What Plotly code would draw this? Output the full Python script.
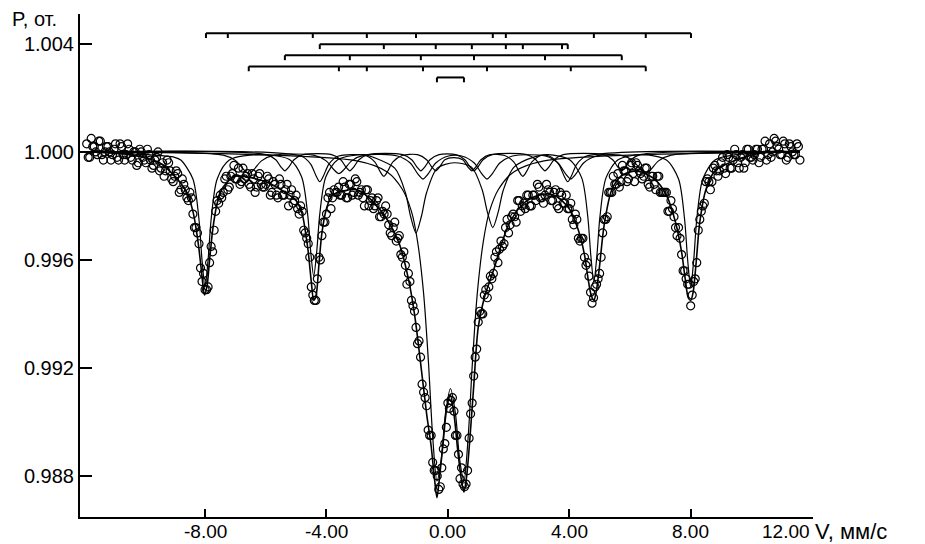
import plotly.graph_objects as go

# ---------------- data ----------------
# measured points, first set of channels
VELOCITY = [
    -11.9, -11.8, -11.7, -11.6, -11.5, -11.4, -11.3, -11.2, -11.1, -11.0,
    -10.9, -10.8, -10.7, -10.6, -10.5, -10.4, -10.3, -10.2, -10.1, -10.0,
    -9.9, -9.8, -9.7, -9.6, -9.5, -9.4, -9.3, -9.2, -9.1, -9.0,
    -8.9, -8.8, -8.7, -8.6, -8.5, -8.4, -8.3, -8.2, -8.1, -8.0,
    -7.9, -7.8, -7.7, -7.6, -7.5, -7.4, -7.3, -7.2, -7.1, -7.0,
    -6.9, -6.8, -6.7, -6.6, -6.5, -6.4, -6.3, -6.2, -6.1, -6.0,
    -5.9, -5.8, -5.7, -5.6, -5.5, -5.4, -5.3, -5.2, -5.1, -5.0,
    -4.9, -4.8, -4.7, -4.6, -4.5, -4.4, -4.3, -4.2, -4.1, -4.0,
    -3.9, -3.8, -3.7, -3.6, -3.5, -3.4, -3.3, -3.2, -3.1, -3.0,
    -2.9, -2.8, -2.7, -2.6, -2.5, -2.4, -2.3, -2.2, -2.1, -2.0,
    -1.9, -1.8, -1.7, -1.6, -1.5, -1.4, -1.3, -1.2, -1.1, -1.0,
    -0.9, -0.8, -0.7, -0.6, -0.5, -0.4, -0.3, -0.2, -0.1, 0.0,
    0.1, 0.2, 0.3, 0.4, 0.5, 0.6, 0.7, 0.8, 0.9, 1.0,
    1.1, 1.2, 1.3, 1.4, 1.5, 1.6, 1.7, 1.8, 1.9, 2.0,
    2.1, 2.2, 2.3, 2.4, 2.5, 2.6, 2.7, 2.8, 2.9, 3.0,
    3.1, 3.2, 3.3, 3.4, 3.5, 3.6, 3.7, 3.8, 3.9, 4.0,
    4.1, 4.2, 4.3, 4.4, 4.5, 4.6, 4.7, 4.8, 4.9, 5.0,
    5.1, 5.2, 5.3, 5.4, 5.5, 5.6, 5.7, 5.8, 5.9, 6.0,
    6.1, 6.2, 6.3, 6.4, 6.5, 6.6, 6.7, 6.8, 6.9, 7.0,
    7.1, 7.2, 7.3, 7.4, 7.5, 7.6, 7.7, 7.8, 7.9, 8.0,
    8.1, 8.2, 8.3, 8.4, 8.5, 8.6, 8.7, 8.8, 8.9, 9.0,
    9.1, 9.2, 9.3, 9.4, 9.5, 9.6, 9.7, 9.8, 9.9, 10.0,
    10.1, 10.2, 10.3, 10.4, 10.5, 10.6, 10.7, 10.8, 10.9, 11.0,
    11.1, 11.2, 11.3, 11.4, 11.5, 11.6,
]
INTENSITY = [
    1.0003, 0.9998, 1.0002, 1.0000, 1.0004, 0.9999, 1.0000, 1.0002, 0.9997, 1.0001,
    0.9998, 1.0003, 0.9999, 0.9999, 1.0001, 0.9997, 1.0000, 0.9996, 1.0000, 0.9997,
    1.0001, 0.9997, 0.9995, 0.9998, 0.9993, 0.9996, 0.9993, 0.9996, 0.9990, 0.9991,
    0.9992, 0.9986, 0.9988, 0.9983, 0.9985, 0.9977, 0.9972, 0.9966, 0.9952, 0.9949,
    0.9950, 0.9965, 0.9971, 0.9982, 0.9984, 0.9985, 0.9991, 0.9987, 0.9992, 0.9990,
    0.9994, 0.9989, 0.9990, 0.9992, 0.9987, 0.9990, 0.9987, 0.9992, 0.9987, 0.9988,
    0.9990, 0.9985, 0.9988, 0.9983, 0.9988, 0.9984, 0.9988, 0.9984, 0.9981, 0.9984,
    0.9977, 0.9978, 0.9970, 0.9966, 0.9950, 0.9945, 0.9953, 0.9960, 0.9974, 0.9977,
    0.9985, 0.9983, 0.9985, 0.9987, 0.9984, 0.9987, 0.9983, 0.9988, 0.9985, 0.9989,
    0.9985, 0.9983, 0.9986, 0.9980, 0.9983, 0.9980, 0.9983, 0.9976, 0.9977, 0.9977,
    0.9970, 0.9972, 0.9967, 0.9969, 0.9961, 0.9958, 0.9955, 0.9945, 0.9941, 0.9929,
    0.9924, 0.9911, 0.9906, 0.9895, 0.9885, 0.9882, 0.9875, 0.9883, 0.9892, 0.9907,
    0.9908, 0.9904, 0.9895, 0.9879, 0.9877, 0.9877, 0.9894, 0.9907, 0.9924, 0.9937,
    0.9940, 0.9947, 0.9946, 0.9954, 0.9955, 0.9963, 0.9964, 0.9965, 0.9972, 0.9970,
    0.9976, 0.9976, 0.9982, 0.9978, 0.9981, 0.9984, 0.9980, 0.9984, 0.9982, 0.9987,
    0.9983, 0.9984, 0.9986, 0.9982, 0.9985, 0.9980, 0.9985, 0.9981, 0.9984, 0.9979,
    0.9975, 0.9977, 0.9968, 0.9968, 0.9961, 0.9959, 0.9948, 0.9946, 0.9951, 0.9955,
    0.9970, 0.9975, 0.9985, 0.9985, 0.9988, 0.9992, 0.9989, 0.9993, 0.9989, 0.9995,
    0.9992, 0.9996, 0.9993, 0.9990, 0.9994, 0.9988, 0.9991, 0.9988, 0.9991, 0.9985,
    0.9985, 0.9985, 0.9978, 0.9979, 0.9972, 0.9972, 0.9962, 0.9956, 0.9951, 0.9943,
    0.9952, 0.9959, 0.9975, 0.9980, 0.9989, 0.9989, 0.9989, 0.9995, 0.9991, 0.9996,
    0.9994, 0.9999, 0.9994, 0.9997, 0.9999, 0.9994, 0.9999, 0.9996, 1.0001, 0.9998,
    0.9999, 1.0001, 0.9998, 1.0001, 0.9997, 1.0003, 1.0000, 1.0004, 1.0001, 0.9999,
    1.0003, 0.9998, 1.0002, 0.9999, 1.0003, 0.9997,
]
# measured points, second (interleaved) set of channels
VELOCITY_2 = [
    -11.85, -11.75, -11.65, -11.55, -11.45, -11.35, -11.25, -11.15, -11.05, -10.95,
    -10.85, -10.75, -10.65, -10.55, -10.45, -10.35, -10.25, -10.15, -10.05, -9.95,
    -9.85, -9.75, -9.65, -9.55, -9.45, -9.35, -9.25, -9.15, -9.05, -8.95,
    -8.85, -8.75, -8.65, -8.55, -8.45, -8.35, -8.25, -8.15, -8.05, -7.95,
    -7.85, -7.75, -7.65, -7.55, -7.45, -7.35, -7.25, -7.15, -7.05, -6.95,
    -6.85, -6.75, -6.65, -6.55, -6.45, -6.35, -6.25, -6.15, -6.05, -5.95,
    -5.85, -5.75, -5.65, -5.55, -5.45, -5.35, -5.25, -5.15, -5.05, -4.95,
    -4.85, -4.75, -4.65, -4.55, -4.45, -4.35, -4.25, -4.15, -4.05, -3.95,
    -3.85, -3.75, -3.65, -3.55, -3.45, -3.35, -3.25, -3.15, -3.05, -2.95,
    -2.85, -2.75, -2.65, -2.55, -2.45, -2.35, -2.25, -2.15, -2.05, -1.95,
    -1.85, -1.75, -1.65, -1.55, -1.45, -1.35, -1.25, -1.15, -1.05, -0.95,
    -0.85, -0.75, -0.65, -0.55, -0.45, -0.35, -0.25, -0.15, -0.05, 0.05,
    0.15, 0.25, 0.35, 0.45, 0.55, 0.65, 0.75, 0.85, 0.95, 1.05,
    1.15, 1.25, 1.35, 1.45, 1.55, 1.65, 1.75, 1.85, 1.95, 2.05,
    2.15, 2.25, 2.35, 2.45, 2.55, 2.65, 2.75, 2.85, 2.95, 3.05,
    3.15, 3.25, 3.35, 3.45, 3.55, 3.65, 3.75, 3.85, 3.95, 4.05,
    4.15, 4.25, 4.35, 4.45, 4.55, 4.65, 4.75, 4.85, 4.95, 5.05,
    5.15, 5.25, 5.35, 5.45, 5.55, 5.65, 5.75, 5.85, 5.95, 6.05,
    6.15, 6.25, 6.35, 6.45, 6.55, 6.65, 6.75, 6.85, 6.95, 7.05,
    7.15, 7.25, 7.35, 7.45, 7.55, 7.65, 7.75, 7.85, 7.95, 8.05,
    8.15, 8.25, 8.35, 8.45, 8.55, 8.65, 8.75, 8.85, 8.95, 9.05,
    9.15, 9.25, 9.35, 9.45, 9.55, 9.65, 9.75, 9.85, 9.95, 10.05,
    10.15, 10.25, 10.35, 10.45, 10.55, 10.65, 10.75, 10.85, 10.95, 11.05,
    11.15, 11.25, 11.35, 11.45, 11.55,
]
INTENSITY_2 = [
    0.9998, 1.0005, 1.0002, 0.9999, 1.0004, 0.9997, 1.0002, 1.0000, 0.9999, 1.0003,
    0.9997, 1.0002, 0.9997, 1.0003, 0.9998, 1.0000, 0.9995, 1.0001, 0.9998, 0.9996,
    0.9999, 0.9994, 0.9997, 1.0000, 0.9994, 0.9991, 0.9997, 0.9993, 0.9989, 0.9993,
    0.9985, 0.9990, 0.9986, 0.9982, 0.9983, 0.9972, 0.9970, 0.9957, 0.9955, 0.9949,
    0.9959, 0.9963, 0.9978, 0.9981, 0.9983, 0.9990, 0.9986, 0.9991, 0.9995, 0.9990,
    0.9988, 0.9994, 0.9991, 0.9988, 0.9992, 0.9985, 0.9991, 0.9988, 0.9987, 0.9991,
    0.9984, 0.9989, 0.9984, 0.9990, 0.9984, 0.9986, 0.9980, 0.9986, 0.9982, 0.9979,
    0.9980, 0.9971, 0.9968, 0.9961, 0.9947, 0.9945, 0.9961, 0.9969, 0.9974, 0.9983,
    0.9979, 0.9986, 0.9985, 0.9984, 0.9989, 0.9983, 0.9988, 0.9984, 0.9990, 0.9984,
    0.9986, 0.9980, 0.9986, 0.9982, 0.9979, 0.9982, 0.9976, 0.9978, 0.9980, 0.9973,
    0.9969, 0.9974, 0.9968, 0.9962, 0.9963, 0.9951, 0.9952, 0.9943, 0.9935, 0.9930,
    0.9914, 0.9909, 0.9897, 0.9895, 0.9882, 0.9880, 0.9876, 0.9890, 0.9898, 0.9905,
    0.9909, 0.9895, 0.9888, 0.9883, 0.9876, 0.9882, 0.9903, 0.9917, 0.9927, 0.9941,
    0.9940, 0.9949, 0.9950, 0.9953, 0.9961, 0.9959, 0.9967, 0.9966, 0.9975, 0.9973,
    0.9977, 0.9974, 0.9982, 0.9980, 0.9979, 0.9984, 0.9980, 0.9984, 0.9988, 0.9983,
    0.9981, 0.9988, 0.9985, 0.9982, 0.9986, 0.9979, 0.9984, 0.9981, 0.9979, 0.9981,
    0.9973, 0.9975, 0.9967, 0.9968, 0.9958, 0.9954, 0.9944, 0.9950, 0.9953, 0.9961,
    0.9975, 0.9976, 0.9985, 0.9991, 0.9988, 0.9987, 0.9995, 0.9993, 0.9990, 0.9996,
    0.9989, 0.9995, 0.9992, 0.9991, 0.9994, 0.9987, 0.9991, 0.9986, 0.9991, 0.9985,
    0.9985, 0.9978, 0.9982, 0.9976, 0.9969, 0.9968, 0.9956, 0.9953, 0.9951, 0.9947,
    0.9953, 0.9971, 0.9978, 0.9981, 0.9990, 0.9986, 0.9994, 0.9993, 0.9993, 0.9998,
    0.9992, 0.9998, 0.9994, 1.0001, 0.9996, 0.9998, 0.9994, 1.0001, 0.9998, 0.9997,
    1.0001, 0.9996, 1.0001, 1.0004, 0.9999, 0.9998, 1.0005, 1.0002, 0.9999, 1.0004,
    0.9997, 1.0003, 1.0000, 0.9999, 1.0002,
]

# fitted envelope
FIT_V = [
    -11.9, -10.5, -9.5, -9.0, -8.6, -8.4, -8.3, -8.2, -8.1, -8.02,
    -7.94, -7.85, -7.75, -7.6, -7.4, -7.0, -6.0, -5.5, -5.0, -4.8,
    -4.7, -4.6, -4.5, -4.42, -4.34, -4.25, -4.15, -4.0, -3.8, -3.0,
    -2.5, -2.0, -1.6, -1.3, -1.1, -0.9, -0.7, -0.55, -0.45, -0.36,
    -0.27, -0.15, -0.05, 0.08, 0.2, 0.32, 0.44, 0.53, 0.62, 0.72,
    0.85, 1.0, 1.2, 1.5, 2.0, 2.5, 3.0, 3.5, 4.0, 4.3,
    4.5, 4.62, 4.72, 4.81, 4.9, 5.0, 5.15, 5.4, 5.7, 6.2,
    6.8, 7.2, 7.5, 7.7, 7.82, 7.92, 8.0, 8.08, 8.18, 8.3,
    8.5, 8.8, 9.5, 10.5, 11.6,
]
FIT_P = [
    1.0000, 0.9999, 0.9996, 0.9991, 0.9985, 0.9978, 0.9972, 0.9964, 0.9954, 0.9947,
    0.9950, 0.9960, 0.9971, 0.9981, 0.9987, 0.9991, 0.9989, 0.9986, 0.9982, 0.9977,
    0.9971, 0.9963, 0.9952, 0.9945, 0.9947, 0.9958, 0.9970, 0.9979, 0.9984, 0.9986,
    0.9982, 0.9975, 0.9966, 0.9953, 0.9940, 0.9922, 0.9903, 0.9891, 0.9880, 0.9872,
    0.9880, 0.9893, 0.9904, 0.9910, 0.9903, 0.9890, 0.9879, 0.9874, 0.9880, 0.9893,
    0.9913, 0.9935, 0.9946, 0.9956, 0.9973, 0.9981, 0.9984, 0.9984, 0.9979, 0.9971,
    0.9962, 0.9953, 0.9947, 0.9945, 0.9949, 0.9958, 0.9973, 0.9986, 0.9991, 0.9993,
    0.9990, 0.9984, 0.9974, 0.9963, 0.9953, 0.9946, 0.9945, 0.9948, 0.9959, 0.9974,
    0.9986, 0.9993, 0.9997, 1.0000, 1.0000,
]

# subspectrum: main sextet
SEXTET_A_V = [
    -11.9, -9.0, -8.8, -8.4, -8.2, -8.1, -8.0, -7.9, -7.8, -7.6,
    -7.2, -6.2, -5.22, -4.82, -4.62, -4.52, -4.42, -4.32, -4.22, -4.02,
    -3.62, -2.75, -2.45, -1.75, -1.40, -1.225, -1.05, -0.875, -0.70, -0.35,
    0.2, 0.78, 1.13, 1.305, 1.48, 1.655, 1.83, 2.18, 2.88, 3.3,
    4.01, 4.41, 4.61, 4.71, 4.81, 4.91, 5.01, 5.21, 5.61, 6.4,
    7.2, 7.6, 7.8, 7.9, 8.0, 8.1, 8.2, 8.4, 8.8, 9.5,
    11.6,
]
SEXTET_A_P = [
    1.0000, 0.9998, 0.9997, 0.9990, 0.9975, 0.9960, 0.9950, 0.9960, 0.9975, 0.9990,
    0.9997, 0.9999, 0.99972, 0.99908, 0.9977, 0.99632, 0.9954, 0.99632, 0.9977, 0.99908,
    0.99972, 0.9999, 0.9998, 0.9994, 0.9985, 0.9976, 0.9970, 0.9976, 0.9985, 0.9994,
    0.9996, 0.99944, 0.9986, 0.99776, 0.9972, 0.99776, 0.9986, 0.99944, 0.99983, 0.9999,
    0.99971, 0.99904, 0.9976, 0.99616, 0.9952, 0.99616, 0.9976, 0.99904, 0.99971, 0.9999,
    0.9997, 0.9990, 0.9975, 0.9960, 0.9950, 0.9960, 0.9975, 0.9990, 0.9997, 0.9999,
    1.0000,
]

# subspectrum: sextet B
SEXTET_B_V = [
    -11.9, -4.82, -4.52, -4.34, -4.22, -4.10, -3.92, -3.62, -2.71, -2.41,
    -2.23, -2.11, -1.99, -1.81, -1.51, -1.0, -0.70, -0.52, -0.40, -0.28,
    -0.10, 0.19, 0.49, 0.67, 0.79, 0.91, 1.09, 1.39, 1.87, 2.17,
    2.35, 2.47, 2.59, 2.77, 3.07, 3.35, 3.65, 3.83, 3.95, 4.07,
    4.25, 4.55, 11.6,
]
SEXTET_B_P = [
    1.0, 0.99984, 0.99955, 0.99911, 0.99890, 0.99911, 0.99955, 0.99984, 0.99987, 0.99963,
    0.99927, 0.99910, 0.99927, 0.99963, 0.99987, 0.99990, 0.99971, 0.99943, 0.99930, 0.99943,
    0.99971, 0.99979, 0.99971, 0.99943, 0.99930, 0.99943, 0.99971, 0.99990, 0.99987, 0.99963,
    0.99927, 0.99910, 0.99927, 0.99963, 0.99987, 0.99984, 0.99955, 0.99911, 0.99890, 0.99911,
    0.99955, 0.99984, 1.0,
]

# subspectrum: sextet C
SEXTET_C_V = [
    -11.9, -5.97, -5.67, -5.49, -5.37, -5.25, -5.07, -4.77, -3.83, -3.53,
    -3.35, -3.23, -3.11, -2.93, -2.63, -1.49, -1.19, -1.01, -0.89, -0.77,
    -0.59, -0.29, 0.26, 0.56, 0.74, 0.86, 0.98, 1.16, 1.46, 2.60,
    2.90, 3.08, 3.20, 3.32, 3.50, 3.80, 5.13, 5.43, 5.61, 5.73,
    5.85, 6.03, 6.33, 11.6,
]
SEXTET_C_P = [
    1.0, 0.99990, 0.99971, 0.99943, 0.99930, 0.99943, 0.99971, 0.99990, 0.99990, 0.99971,
    0.99943, 0.99930, 0.99943, 0.99971, 0.99990, 0.99990, 0.99971, 0.99943, 0.99930, 0.99943,
    0.99971, 0.99990, 0.99990, 0.99971, 0.99943, 0.99930, 0.99943, 0.99971, 0.99990, 0.99990,
    0.99971, 0.99943, 0.99930, 0.99943, 0.99971, 0.99990, 0.99990, 0.99971, 0.99943, 0.99930,
    0.99943, 0.99971, 0.99990, 1.0,
]

# subspectrum: sextet D
SEXTET_D_V = [
    -11.9, -7.40, -6.98, -6.73, -6.56, -6.39, -6.14, -5.72, -4.43, -4.01,
    -3.76, -3.59, -3.42, -3.17, -2.75, -1.66, -1.24, -0.99, -0.82, -0.65,
    -0.40, 0.02, 0.45, 0.87, 1.12, 1.29, 1.46, 1.71, 2.13, 3.21,
    3.63, 3.88, 4.05, 4.22, 4.47, 4.89, 5.68, 6.10, 6.35, 6.52,
    6.69, 6.94, 7.36, 11.6,
]
SEXTET_D_P = [
    1.0, 0.99988, 0.99967, 0.99935, 0.99920, 0.99935, 0.99967, 0.99988, 0.99988, 0.99967,
    0.99935, 0.99920, 0.99935, 0.99967, 0.99988, 0.99985, 0.99959, 0.99919, 0.99900, 0.99919,
    0.99959, 0.99985, 0.99985, 0.99959, 0.99919, 0.99900, 0.99919, 0.99959, 0.99985, 0.99985,
    0.99959, 0.99919, 0.99900, 0.99919, 0.99959, 0.99985, 0.99988, 0.99967, 0.99935, 0.99920,
    0.99935, 0.99967, 0.99988, 1.0,
]

# subspectrum: doublet
DOUBLET_V = [
    -11.9, -3.0, -2.0, -1.5, -1.2, -1.0, -0.8, -0.64, -0.5, -0.36,
    -0.22, -0.08, 0.085, 0.25, 0.39, 0.53, 0.67, 0.81, 0.97, 1.17,
    1.37, 1.67, 2.17, 3.17, 11.6,
]
DOUBLET_P = [
    1.0000, 0.99967, 0.99926, 0.99862, 0.99780, 0.99670, 0.99477, 0.99222, 0.98946, 0.98781,
    0.9886, 0.99031, 0.99124, 0.99031, 0.9886, 0.98781, 0.98946, 0.99222, 0.99477, 0.99670,
    0.99780, 0.99862, 0.99926, 0.99967, 1.0000,
]

# stick diagrams (line positions, mm/s), one list per row from the top
STICK_ROW_1 = [-7.97, -7.25, -4.45, -2.67, -1.05, 1.48, 1.91, 4.81, 6.52, 8.01]
STICK_ROW_2 = [-4.22, -2.11, -0.40, 0.79, 1.91, 2.47, 3.76, 3.95]
STICK_ROW_3 = [-5.37, -3.23, -0.89, 0.86, 3.20, 5.73]
STICK_ROW_4 = [-6.56, -3.59, -2.67, -0.82, 1.29, 4.05, 6.52]
STICK_ROW_5 = [-0.36, 0.53]

X_TICKS = [-8, -4, 0, 4, 8, 12]
X_TICK_LABELS = ["-8.00", "-4.00", "0.00", "4.00", "8.00", "12.00"]
X_UNIT = "V, мм/с"
Y_TICKS = [0.988, 0.992, 0.996, 1.000, 1.004]
Y_TICK_LABELS = ["0.988", "0.992", "0.996", "1.000", "1.004"]
Y_UNIT = "P, от."

# ---------------- figure ----------------
fig = go.Figure()

for vx, py in [(SEXTET_D_V, SEXTET_D_P), (SEXTET_C_V, SEXTET_C_P),
               (SEXTET_B_V, SEXTET_B_P), (SEXTET_A_V, SEXTET_A_P),
               (DOUBLET_V, DOUBLET_P)]:
    fig.add_trace(go.Scatter(x=vx, y=py, mode="lines",
                             line=dict(color="black", width=1.2, shape="spline", smoothing=0.8),
                             hoverinfo="skip", showlegend=False))

fig.add_trace(go.Scatter(x=FIT_V, y=FIT_P, mode="lines",
                         line=dict(color="black", width=1.6, shape="spline", smoothing=0.8),
                         showlegend=False))

fig.add_trace(go.Scatter(x=VELOCITY + VELOCITY_2, y=INTENSITY + INTENSITY_2, mode="markers",
                         marker=dict(symbol="circle-open", size=8, color="black",
                                     line=dict(width=1.2)),
                         showlegend=False))

# stick diagrams
ROW_TOP = 1.00440
ROW_GAP = 0.00041
TICK_DROP = 0.00018
for i, row in enumerate([STICK_ROW_1, STICK_ROW_2, STICK_ROW_3, STICK_ROW_4, STICK_ROW_5]):
    level = ROW_TOP - i * ROW_GAP
    xs = [min(row), max(row), None]
    ys = [level, level, None]
    for v in row:
        xs += [v, v, None]
        ys += [level, level - TICK_DROP, None]
    fig.add_trace(go.Scatter(x=xs, y=ys, mode="lines",
                             line=dict(color="black", width=2),
                             hoverinfo="skip", showlegend=False))

X0, X1 = 80, 813
Y0, Y1 = 517, 14


def px_x(p):
    return (p - X0) / (X1 - X0)


def px_y(p):
    return (Y0 - p) / (Y0 - Y1)


TICK_FONT = dict(family="Liberation Sans, Arial", size=19, color="black")

# x tick labels drawn at the tick values (the last one is nudged left, as in the original)
for val, lab in zip(X_TICKS, X_TICK_LABELS):
    if val == X_TICKS[-1]:
        fig.add_annotation(text=lab, xref="paper", yref="paper",
                           x=px_x(786), y=px_y(531), xanchor="center", yanchor="middle",
                           showarrow=False, font=TICK_FONT)
    else:
        fig.add_annotation(text=lab, xref="x", yref="paper",
                           x=val, y=px_y(531), xanchor="center", yanchor="middle",
                           showarrow=False, font=TICK_FONT)

fig.add_annotation(text=X_UNIT, xref="paper", yref="paper",
                   x=px_x(813), y=px_y(531), xanchor="left", yanchor="middle",
                   showarrow=False,
                   font=dict(family="Liberation Sans, Arial", size=22, color="black"))
fig.add_annotation(text=Y_UNIT, xref="paper", yref="paper",
                   x=px_x(10), y=px_y(19), xanchor="left", yanchor="middle",
                   showarrow=False,
                   font=dict(family="Liberation Sans, Arial", size=20, color="black"))

fig.update_layout(
    width=925, height=544,
    margin=dict(l=X0, r=925 - X1, t=Y1, b=544 - Y0, pad=0),
    paper_bgcolor="white", plot_bgcolor="white",
    showlegend=False,
    xaxis=dict(range=[-12.12, 12.03], showgrid=False, zeroline=False, automargin=False,
               showline=True, linecolor="black", linewidth=2,
               ticks="inside", ticklen=8, tickwidth=2, tickcolor="black",
               tickvals=X_TICKS, showticklabels=False),
    yaxis=dict(range=[0.98648, 1.00511], showgrid=False, zeroline=False, automargin=False,
               showline=True, linecolor="black", linewidth=2,
               ticks="inside", ticklen=12, tickwidth=2, tickcolor="black",
               tickvals=Y_TICKS, ticktext=Y_TICK_LABELS,
               tickfont=dict(family="Liberation Sans, Arial", size=20, color="black")),
)

fig.write_html("out.html", config={"displayModeBar": False},
               post_script="document.body.style.margin='0';")
